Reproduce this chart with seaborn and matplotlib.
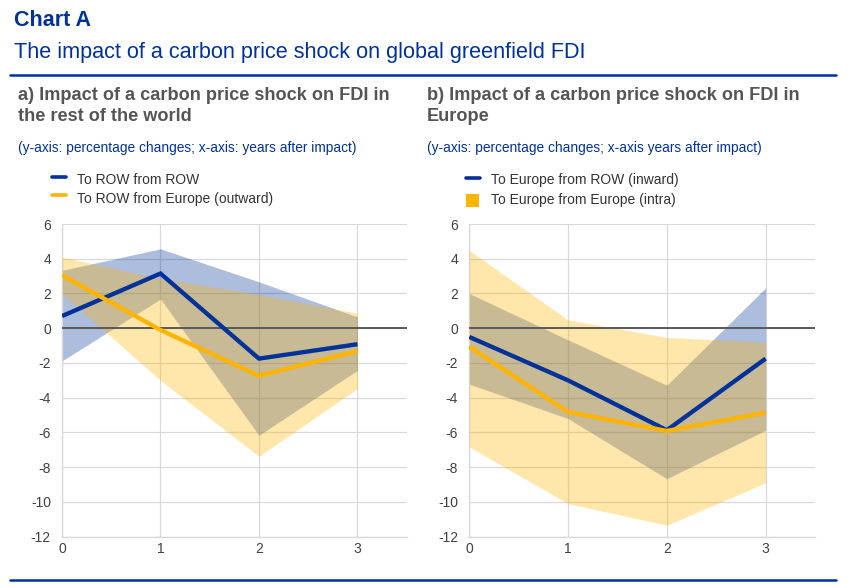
import numpy as np
import pandas as pd
import matplotlib
matplotlib.use("Agg")
import matplotlib.pyplot as plt
from matplotlib.lines import Line2D
from matplotlib.patches import Rectangle
import seaborn as sns

# ---------------- data ----------------
years = [0, 1, 2, 3]

# Panel a) rest of the world
row_from_row = [0.7, 3.15, -1.75, -0.92]
row_from_row_lo = [-1.88, 1.68, -6.16, -2.42]
row_from_row_hi = [3.33, 4.57, 2.67, 0.65]
row_from_eu = [3.05, -0.1, -2.74, -1.32]
row_from_eu_lo = [2.0, -3.0, -7.37, -3.47]
row_from_eu_hi = [4.1, 2.86, 1.95, 0.86]

# Panel b) Europe
eu_from_row = [-0.5, -3.0, -5.87, -1.75]
eu_from_row_lo = [-3.22, -5.2, -8.66, -5.87]
eu_from_row_hi = [2.0, -0.67, -3.28, 2.32]
eu_from_eu = [-1.07, -4.82, -5.91, -4.86]
eu_from_eu_lo = [-6.83, -10.1, -11.34, -8.9]
eu_from_eu_hi = [4.48, 0.48, -0.53, -0.8]

left_labels = ["To ROW from ROW", "To ROW from Europe (outward)"]
right_labels = ["To Europe from ROW (inward)", "To Europe from Europe (intra)"]
y_ticks = [6, 4, 2, 0, -2, -4, -6, -8, -10, -12]
x_ticks = [0, 1, 2, 3]

title = "Chart A"
subtitle = "The impact of a carbon price shock on global greenfield FDI"
panel_a = ["a) Impact of a carbon price shock on FDI in", "the rest of the world"]
panel_b = ["b) Impact of a carbon price shock on FDI in", "Europe"]
note_a = "(y-axis: percentage changes; x-axis: years after impact)"
note_b = "(y-axis: percentage changes; x-axis years after impact)"

# ---------------- style ----------------
BLUE = "#003299"
YELLOW = "#FFB400"
GRID = "#d9d9d9"
sns.set_theme(style="white")
plt.rcParams["font.family"] = ["Liberation Sans", "DejaVu Sans"]

W, H = 851, 587
fig = plt.figure(figsize=(W / 100, H / 100), dpi=100)


def fx(px):
    return px / W


def fy(py):
    return 1 - py / H


ax_bottom, ax_top = 536.7, 224.0
ax1 = fig.add_axes([fx(62), fy(ax_bottom), (406.7 - 62) / W, (ax_bottom - ax_top) / H])
ax2 = fig.add_axes([fx(469.3), fy(ax_bottom), (815 - 469.3) / W, (ax_bottom - ax_top) / H])


def draw_panel(ax, l1, l1lo, l1hi, l2, l2lo, l2hi, labels):
    ax.fill_between(years, l1lo, l1hi, color=BLUE, alpha=0.32, lw=0, zorder=2)
    ax.fill_between(years, l2lo, l2hi, color=YELLOW, alpha=0.33, lw=0, zorder=3)
    df = pd.DataFrame({
        "year": years * 2,
        "value": list(l1) + list(l2),
        "series": [labels[0]] * 4 + [labels[1]] * 4,
    })
    sns.lineplot(data=df, x="year", y="value", hue="series",
                 palette=[BLUE, YELLOW], linewidth=3.1, legend=False,
                 ax=ax, zorder=5)
    for ln in ax.get_lines():
        ln.set_solid_capstyle("butt")
        ln.set_solid_joinstyle("miter")
    ax.axhline(0, color="#595959", lw=1.4, zorder=4)
    ax.set_xlim(0, 3.5)
    ax.set_ylim(-12, 6)
    ax.set_xticks(x_ticks)
    ax.set_yticks(y_ticks)
    ax.set_xticklabels([str(v) for v in x_ticks])
    ax.set_yticklabels([str(v) for v in y_ticks])
    ax.set_xlabel("")
    ax.set_ylabel("")
    ax.grid(True, color=GRID, lw=0.9, zorder=0)
    ax.set_axisbelow(True)
    for s in ["top", "right"]:
        ax.spines[s].set_visible(False)
    for s in ["left", "bottom"]:
        ax.spines[s].set_color(GRID)
        ax.spines[s].set_linewidth(1.0)
    ax.tick_params(axis="both", length=0, labelsize=10, colors="#404040")
    ax.tick_params(axis="y", pad=8)
    ax.tick_params(axis="x", pad=4)


draw_panel(ax1, row_from_row, row_from_row_lo, row_from_row_hi,
           row_from_eu, row_from_eu_lo, row_from_eu_hi, left_labels)
draw_panel(ax2, eu_from_row, eu_from_row_lo, eu_from_row_hi,
           eu_from_eu, eu_from_eu_lo, eu_from_eu_hi, right_labels)

# ---------------- header texts ----------------
fig.text(fx(14), fy(26), title, color=BLUE, fontsize=15.5, fontweight="bold", va="baseline")
fig.text(fx(14), fy(58), subtitle, color=BLUE, fontsize=15.6, va="baseline")
fig.add_artist(Line2D([fx(10), fx(836)], [fy(75), fy(75)], color=BLUE, lw=1.8))
fig.add_artist(Line2D([fx(10), fx(836)], [fy(580), fy(580)], color=BLUE, lw=1.8))

for x0, lines, note in [(18, panel_a, note_a), (427, panel_b, note_b)]:
    fig.text(fx(x0), fy(100), lines[0], color="#555555", fontsize=13.1,
             fontweight="bold", va="baseline")
    fig.text(fx(x0), fy(121), lines[1], color="#555555", fontsize=13.1,
             fontweight="bold", va="baseline")
    fig.text(fx(x0), fy(152), note, color=BLUE, fontsize=9.9, va="baseline")

# ---------------- legends ----------------
# left panel
fig.add_artist(Line2D([fx(52), fx(66)], [fy(177), fy(177)], color=BLUE, lw=2.6))
fig.add_artist(Line2D([fx(52), fx(66)], [fy(195), fy(195)], color=YELLOW, lw=2.6))
fig.text(fx(77), fy(184), left_labels[0], color="#333333", fontsize=10, va="baseline")
fig.text(fx(77), fy(203), left_labels[1], color="#333333", fontsize=10, va="baseline")
# right panel
fig.add_artist(Line2D([fx(466), fx(480)], [fy(178), fy(178)], color=BLUE, lw=2.6))
fig.add_artist(Rectangle((fx(466), fy(206.5)), 12.5 / W, 13 / H,
                         transform=fig.transFigure, color=YELLOW, lw=0))
fig.text(fx(491), fy(184), right_labels[0], color="#333333", fontsize=10, va="baseline")
fig.text(fx(491), fy(204), right_labels[1], color="#333333", fontsize=10, va="baseline")

fig.savefig("out.png", dpi=100, facecolor="white")
